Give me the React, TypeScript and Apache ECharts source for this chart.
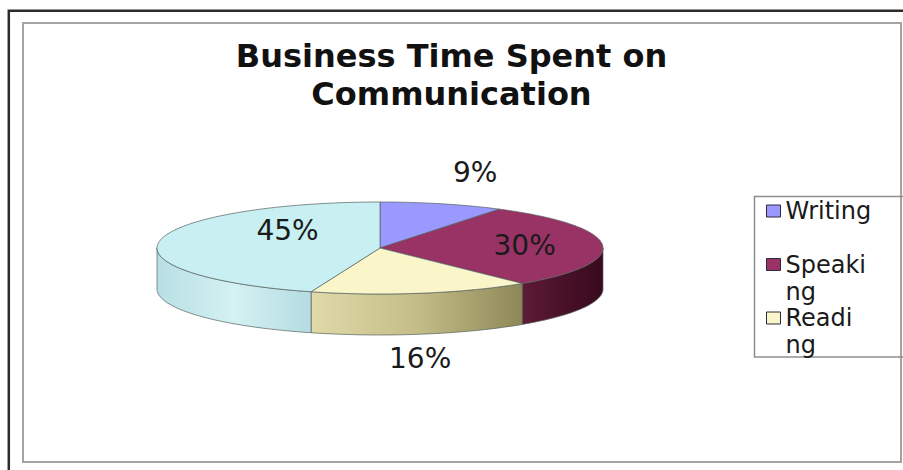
import React, { useEffect, useRef } from 'react';
import * as echarts from 'echarts';

// ---- data ----
const categories = ['Writing', 'Speaking', 'Reading', 'Listening'];
const values = [9, 30, 16, 45];
const legendNames = ['Writing', 'Speaking', 'Reading'];
const legendLabels = ['Writing', 'Speaki\nng', 'Readi\nng'];
const titleLines = ['Business Time Spent on', 'Communication'];

// ---- styles / layout ----
const TOP_COLORS = ['#9999ff', '#993366', '#fbf6c9', '#c8eff2'];
const SIDE_COLORS: string[][] = [
  ['#6b6bc0', '#55559e'],
  ['#5e1a37', '#4a1129', '#380a1e'],
  ['#e0daa9', '#c4bd88', '#8e8858'],
  ['#b8dfe4', '#d4f1f3', '#b4dce1'],
];
const LABEL_FX = [1.53, 0.65, 0.96, 0.42];
const LABEL_FY = [1.7, 0.7, 2.44, 2.5];
const CX = 380;
const CY = 248;
const RX = 223;
const RY = 46;
const DEPTH = 41;
const EDGE = '#56615f';
const LEGEND_LH = 27;
const NBSP = '\u00a0';

const total = values.reduce((a, b) => a + b, 0);
const pt = (deg: number, dy = 0) => {
  const r = (deg * Math.PI) / 180;
  return [CX + RX * Math.sin(r), CY - RY * Math.cos(r) + dy];
};

// legend text: 3 lines per item so that the first real line sits on the icon
const legendText = (name: string) => {
  const lines = legendLabels[legendNames.indexOf(name)].split('\n');
  const padded = [NBSP, ...lines];
  while (padded.length < 3) padded.push(NBSP);
  return padded.join('\n');
};

function makeRender(idx: number) {
  return (params: any, api: any) => {
    const v = api.value(0) as number;
    const before = values.slice(0, idx).reduce((a, b) => a + b, 0);
    const a1 = (before / total) * 360;
    const a2 = ((before + v) / total) * 360;
    const children: any[] = [];
    const s1 = Math.max(a1, 90);
    const s2 = Math.min(a2, 270);
    if (s2 > s1) {
      const up: number[][] = [];
      const down: number[][] = [];
      const m = Math.max(6, Math.ceil((s2 - s1) / 2));
      for (let k = 0; k <= m; k++) {
        const a = s1 + ((s2 - s1) * k) / m;
        up.push(pt(a));
        down.unshift(pt(a, DEPTH));
      }
      const stops = SIDE_COLORS[idx].map((c, j, arr) => ({
        offset: arr.length === 1 ? 0 : j / (arr.length - 1),
        color: c,
      }));
      children.push({
        type: 'polygon',
        shape: { points: up.concat(down) },
        style: {
          fill: { type: 'linear', x: 0, y: 0, x2: 1, y2: 0, colorStops: stops },
          stroke: EDGE,
          lineWidth: 0.7,
        },
        z2: 1,
      });
    }
    const topPts: number[][] = [[CX, CY]];
    const n = Math.max(8, Math.ceil((a2 - a1) / 2));
    for (let k = 0; k <= n; k++) topPts.push(pt(a1 + ((a2 - a1) * k) / n));
    children.push({
      type: 'polygon',
      shape: { points: topPts },
      style: { fill: TOP_COLORS[idx], stroke: EDGE, lineWidth: 0.7 },
      z2: 2,
    });
    const mid = (((a1 + a2) / 2) * Math.PI) / 180;
    children.push({
      type: 'text',
      x: CX + RX * Math.sin(mid) * LABEL_FX[idx],
      y: CY - RY * Math.cos(mid) * LABEL_FY[idx],
      style: {
        text: v + '%',
        fill: '#1a1a1a',
        font: '28px "DejaVu Sans"',
        align: 'center',
        verticalAlign: 'middle',
      },
      z2: 3,
    });
    return { type: 'group', children };
  };
}

export default function App() {
  const ref = useRef<HTMLDivElement>(null);
  useEffect(() => {
    if (!ref.current) return;
    const chart = echarts.init(ref.current, null, { renderer: 'svg' });
    chart.setOption({
      animation: false,
      backgroundColor: '#ffffff',
      color: TOP_COLORS,
      title: {
        text: titleLines.join('\n'),
        left: 'center',
        top: 36.5,
        padding: 0,
        textStyle: {
          fontFamily: 'DejaVu Sans',
          fontWeight: 'bold',
          fontSize: 32,
          lineHeight: 38,
          color: '#111111',
        },
      },
      legend: {
        orient: 'vertical',
        left: 766,
        top: 211 - 1.5 * LEGEND_LH,
        padding: 0,
        icon: 'rect',
        itemWidth: 14,
        itemHeight: 12,
        itemGap: 53.5 - 3 * LEGEND_LH,
        itemStyle: { borderColor: '#2a2a3a', borderWidth: 1 },
        selectedMode: false,
        formatter: legendText,
        textStyle: {
          fontFamily: 'DejaVu Sans',
          fontSize: 24,
          lineHeight: LEGEND_LH,
          color: '#1a1a1a',
        },
        data: legendNames,
      },
      graphic: [
        {
          type: 'rect',
          silent: true,
          shape: { x: 8.8, y: 10.8, width: 1000, height: 1000 },
          style: { fill: 'none', stroke: '#2b2b2b', lineWidth: 2.5 },
        },
        {
          type: 'rect',
          silent: true,
          shape: { x: 23, y: 23, width: 878, height: 439 },
          style: { fill: 'none', stroke: '#a3a3a3', lineWidth: 2 },
        },
        {
          type: 'rect',
          silent: true,
          shape: { x: 754.5, y: 196.5, width: 200, height: 160.5 },
          style: { fill: 'none', stroke: '#8e8e8e', lineWidth: 1.5 },
        },
      ],
      series: categories.map((name, i) => ({
        type: 'custom',
        name,
        coordinateSystem: 'none',
        silent: true,
        itemStyle: { color: TOP_COLORS[i] },
        renderItem: makeRender(i),
        data: [values[i]],
      })),
    });
    return () => chart.dispose();
  }, []);
  return (
    <div
      ref={ref}
      style={{ position: 'absolute', left: 0, top: 0, width: 903, height: 470 }}
    />
  );
}
